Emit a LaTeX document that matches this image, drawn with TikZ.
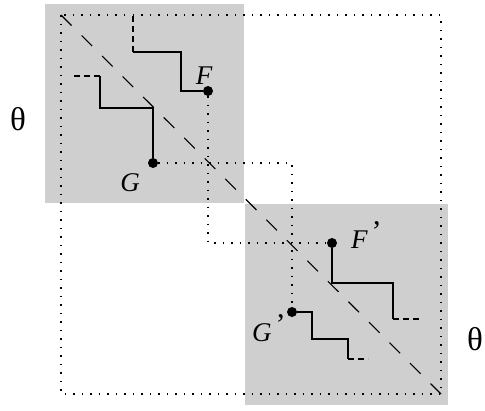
\documentclass[tikz,border=0pt]{standalone}
\usepackage{fontspec}
\setmainfont{Liberation Serif}
\definecolor{boxgray}{RGB}{207,207,207}
\newcommand{\myprime}{\hspace{4pt}\raisebox{7pt}{\fontsize{30}{30}\selectfont\upshape ’}}
\begin{document}
\begin{tikzpicture}[x=1pt,y=-1pt,
  dotline/.style={line width=1.5pt,dash pattern=on 1.5pt off 7pt},
  diag/.style={line width=1.1pt,dash pattern=on 15pt off 14pt},
  stair/.style={line width=1.2pt},
  stairdash/.style={line width=1.2pt,dash pattern=on 6pt off 4pt},
  pt/.style={circle,fill=black,inner sep=0pt,minimum size=10pt},
  lab/.style={font=\fontsize{27}{27}\selectfont\itshape,inner sep=0pt},
  theta/.style={font=\fontsize{33}{33}\selectfont,inner sep=0pt}]
\useasboundingbox (0,0) rectangle (485,410);
% shaded squares
\fill[boxgray] (45,4) rectangle (244,203);
\fill[boxgray] (245,204) rectangle (448,405);
% outer dotted rectangle and diagonal
\coordinate (TL) at (61,15);
\coordinate (BR) at (441,394);
\draw[dotline] (TL) rectangle (BR);
\draw[diag] (TL) -- (BR);
% points
\node[pt] (F) at (208,91) {};
\node[pt] (G) at (153,163) {};
\node[pt] (Fp) at (332,243) {};
\node[pt] (Gp) at (292,312) {};
% dotted connectors
\draw[dotline] (F) |- (Fp);
\draw[dotline] (G) -| (Gp);
% staircase from F
\coordinate (f1) at (181,91);
\coordinate (f2) at (181,52);
\coordinate (f3) at (133,52);
\coordinate (f4) at (133,15);
\draw[stair] (F) -- (f1) -- (f2) -- (f3);
\draw[stairdash] (f3) -- (f4);
% staircase from G
\coordinate (g1) at (153,108);
\coordinate (g2) at (100,108);
\coordinate (g3) at (100,76);
\coordinate (g4) at (74,76);
\draw[stair] (G) -- (g1) -- (g2) -- (g3);
\draw[stairdash] (g3) -- (g4);
% staircase from F'
\coordinate (p1) at (332,283);
\coordinate (p2) at (393,283);
\coordinate (p3) at (393,319);
\coordinate (p4) at (420,319);
\draw[stair] (Fp) -- (p1) -- (p2) -- (p3);
\draw[stairdash] (p3) -- (p4);
% staircase from G'
\coordinate (q1) at (312,312);
\coordinate (q2) at (312,339);
\coordinate (q3) at (348,339);
\coordinate (q4) at (348,359);
\coordinate (q5) at (368,359);
\draw[stair] (Gp) -- (q1) -- (q2) -- (q3) -- (q4);
\draw[stairdash] (q4) -- (q5);
% labels
\node[lab] (Flab) at (204,75.5) {F};
\node[lab] (Glab) at (130,182.5) {G};
\node[lab,anchor=base west] (Fplab) at (351,248) {F\myprime};
\node[lab,anchor=base west] (Gplab) at (252,341) {G\myprime};
\node[theta] (th1) at (18,119) {θ};
\node[theta] (th2) at (475,339) {θ};
\end{tikzpicture}
\end{document}
